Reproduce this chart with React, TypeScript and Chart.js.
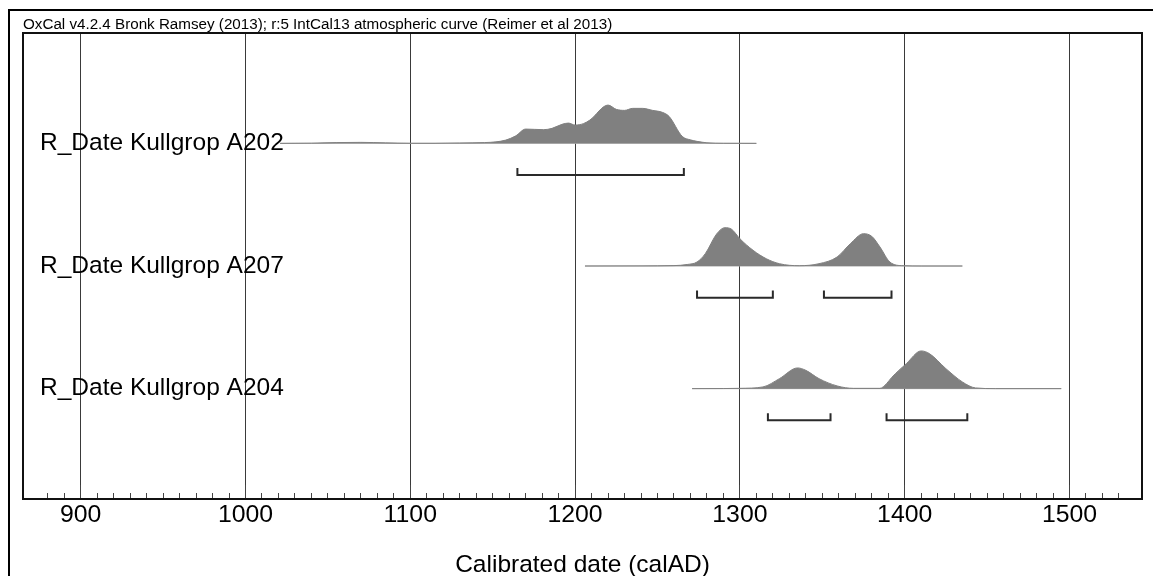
import React, { useEffect, useRef } from 'react';
import { Chart, registerables } from 'chart.js';

Chart.register(...registerables);

const FONT = '"Liberation Sans", Arial, Helvetica, sans-serif';

// ---------- text ----------
const headerText = 'OxCal v4.2.4 Bronk Ramsey (2013); r:5 IntCal13 atmospheric curve (Reimer et al 2013)';
const axisTitle = 'Calibrated date (calAD)';

// ---------- x axis (calendar years AD) ----------
const xMin = 865;
const xMax = 1544;
const majorTicks = [900, 1000, 1100, 1200, 1300, 1400, 1500];

// ---------- rows ----------
const rowNames = ['R_Date Kullgrop A202', 'R_Date Kullgrop A207', 'R_Date Kullgrop A204'];
const rowLevels = [3, 2, 1];
const rowSpans = [
  [1021, 1310],
  [1206, 1435],
  [1271, 1495],
];

// ---------- posterior / likelihood densities (relative heights) ----------
const a202Years = [1021, 1040, 1055, 1070, 1085, 1100, 1115, 1130, 1145, 1152, 1158, 1164, 1170, 1181, 1186, 1192, 1196, 1200, 1205, 1209, 1220, 1225, 1230, 1235, 1241, 1247, 1253, 1257, 1265, 1270, 1274, 1280, 1290, 1310];
const a202Prob = [0, 0.2, 0.8, 1.0, 0.5, 0.1, 0.1, 0.4, 0.8, 1.5, 3.3, 7.5, 14.3, 13.7, 15, 19, 20.3, 18.3, 19.7, 23.3, 38.3, 34, 33, 35, 35, 33, 31, 27, 7, 3.5, 2, 0.6, 0.1, 0];

const a207Years = [1206, 1240, 1260, 1268, 1274, 1279, 1286, 1291, 1295, 1300, 1308, 1316, 1324, 1336, 1348, 1359, 1367, 1375, 1380, 1385, 1391, 1399, 1410, 1435];
const a207Prob = [0, 0.1, 0.4, 1.5, 4, 12.3, 32.3, 38.3, 36.7, 27.3, 15.7, 7.3, 2.3, 0.3, 2.3, 9, 22.3, 32.3, 29.7, 19, 4, 0.3, 0, 0];

const a204Years = [1271, 1290, 1300, 1314, 1324, 1335, 1340, 1348, 1359, 1369, 1385, 1389, 1392, 1401, 1410, 1415, 1425, 1435, 1443, 1455, 1495];
const a204Prob = [0, 0.1, 0.3, 1.7, 10, 20.7, 18.3, 10, 2.7, 0.3, 0.3, 5, 11, 25, 37.7, 35, 20, 6.7, 0.7, 0, 0];

// ---------- 95.4% ranges ----------
const a202Ranges = [[1165, 1266]];
const a207Ranges = [[1274, 1320], [1351, 1392]];
const a204Ranges = [[1317, 1355], [1389, 1438]];

// ---------- styling constants ----------
const PROB_SCALE = 1 / 122.6;
const BRACKET_LOW = -0.258;
const BRACKET_HIGH = -0.2;

const rows = [
  { years: a202Years, prob: a202Prob, ranges: a202Ranges },
  { years: a207Years, prob: a207Prob, ranges: a207Ranges },
  { years: a204Years, prob: a204Prob, ranges: a204Ranges },
];

function buildDatasets() {
  const ds: any[] = [];
  rows.forEach((r, i) => {
    const lvl = rowLevels[i];
    const span = rowSpans[i];
    ds.push({
      data: [{ x: span[0], y: lvl }, { x: span[1], y: lvl }],
      borderColor: '#a8a8a8',
      borderWidth: 1,
      pointRadius: 0,
      fill: false,
      order: 3,
    });
    ds.push({
      data: r.years.map((yr, k) => ({ x: yr, y: lvl + r.prob[k] * PROB_SCALE })),
      borderColor: '#808080',
      backgroundColor: '#808080',
      borderWidth: 1,
      pointRadius: 0,
      cubicInterpolationMode: 'monotone',
      fill: { value: lvl },
      order: 2,
    });
    const pts: any[] = [];
    r.ranges.forEach((rg, k) => {
      if (k > 0) pts.push({ x: rg[0], y: null });
      pts.push({ x: rg[0], y: lvl + BRACKET_HIGH });
      pts.push({ x: rg[0], y: lvl + BRACKET_LOW });
      pts.push({ x: rg[1], y: lvl + BRACKET_LOW });
      pts.push({ x: rg[1], y: lvl + BRACKET_HIGH });
    });
    ds.push({
      data: pts,
      borderColor: '#2a2a2a',
      borderWidth: 2,
      pointRadius: 0,
      fill: false,
      spanGaps: false,
      order: 1,
    });
  });
  return ds;
}

const framePlugin = {
  id: 'oxcalFrame',
  afterDraw(chart: any) {
    const { ctx, chartArea: a } = chart;
    const x = chart.scales.x;
    ctx.save();
    // minor tick marks (inside the plot, pointing up)
    ctx.strokeStyle = '#444';
    ctx.lineWidth = 1;
    x.ticks.forEach((t: any) => {
      if (t.value % 10 !== 0) return;
      const px = Math.round(x.getPixelForValue(t.value) - 0.5) + 0.5;
      const len = t.value % 100 === 0 ? 14 : 6;
      ctx.beginPath();
      ctx.moveTo(px, a.bottom);
      ctx.lineTo(px, a.bottom - len);
      ctx.stroke();
    });
    // plot frame
    ctx.strokeStyle = '#111';
    ctx.lineWidth = 2;
    ctx.strokeRect(a.left, a.top, a.right - a.left, a.bottom - a.top);
    // outer frame (top and left edges)
    ctx.strokeStyle = '#000';
    ctx.beginPath();
    ctx.moveTo(9, 580);
    ctx.lineTo(9, 10);
    ctx.lineTo(1153, 10);
    ctx.stroke();
    ctx.restore();
  },
};

export default function App() {
  const ref = useRef<HTMLCanvasElement>(null);
  useEffect(() => {
    if (!ref.current) return;
    Chart.defaults.font.family = FONT;
    const chart = new Chart(ref.current, {
      type: 'line',
      data: { datasets: buildDatasets() },
      options: {
        animation: false,
        responsive: false,
        maintainAspectRatio: false,
        devicePixelRatio: 1,
        layout: { padding: { left: 23, right: 14, top: 0, bottom: 0 } },
        plugins: {
          legend: { display: false },
          tooltip: { enabled: false },
          title: {
            display: true,
            text: headerText,
            align: 'start',
            color: '#000',
            font: { size: 15.2, family: FONT, weight: 'normal', lineHeight: 1 },
            padding: { top: 17.6, bottom: 0.2 },
          },
        },
        scales: {
          x: {
            type: 'linear',
            min: xMin,
            max: xMax,
            z: 1,
            afterFit: (s: any) => {
              s.height = 77;
            },
            border: { display: false },
            grid: {
              drawTicks: false,
              lineWidth: 1,
              color: (c: any) => (c.tick && majorTicks.includes(c.tick.value) ? '#3a3a3a' : 'rgba(0,0,0,0)'),
            },
            ticks: {
              stepSize: 10,
              autoSkip: false,
              maxRotation: 0,
              padding: 1,
              color: '#000',
              font: { size: 24.8, family: FONT },
              callback: (v: any) => (majorTicks.includes(Number(v)) ? String(v) : ''),
            },
            title: {
              display: true,
              text: axisTitle,
              color: '#000',
              font: { size: 24.5, family: FONT, lineHeight: 0.9 },
              padding: { top: 0, bottom: 0 },
            },
          },
          y: {
            type: 'linear',
            min: 0.1,
            max: 3.9,
            afterFit: (s: any) => {
              s.width = 0;
            },
            afterBuildTicks: (s: any) => {
              s.ticks = rowLevels.map((v) => ({ value: v }));
            },
            border: { display: false },
            grid: { display: false, drawTicks: false },
            ticks: {
              mirror: true,
              padding: 17,
              autoSkip: false,
              color: '#000',
              font: { size: 24.5, family: FONT },
              callback: (v: any) => rowNames[rowLevels.indexOf(Number(v))] ?? '',
            },
          },
        },
      } as any,
      plugins: [framePlugin],
    });
    return () => chart.destroy();
  }, []);
  return (
    <div style={{ position: 'absolute', left: 0, top: 0, width: 1156, height: 576, background: '#fff' }}>
      <canvas ref={ref} width={1156} height={576} style={{ display: 'block', width: 1156, height: 576 }} />
    </div>
  );
}
